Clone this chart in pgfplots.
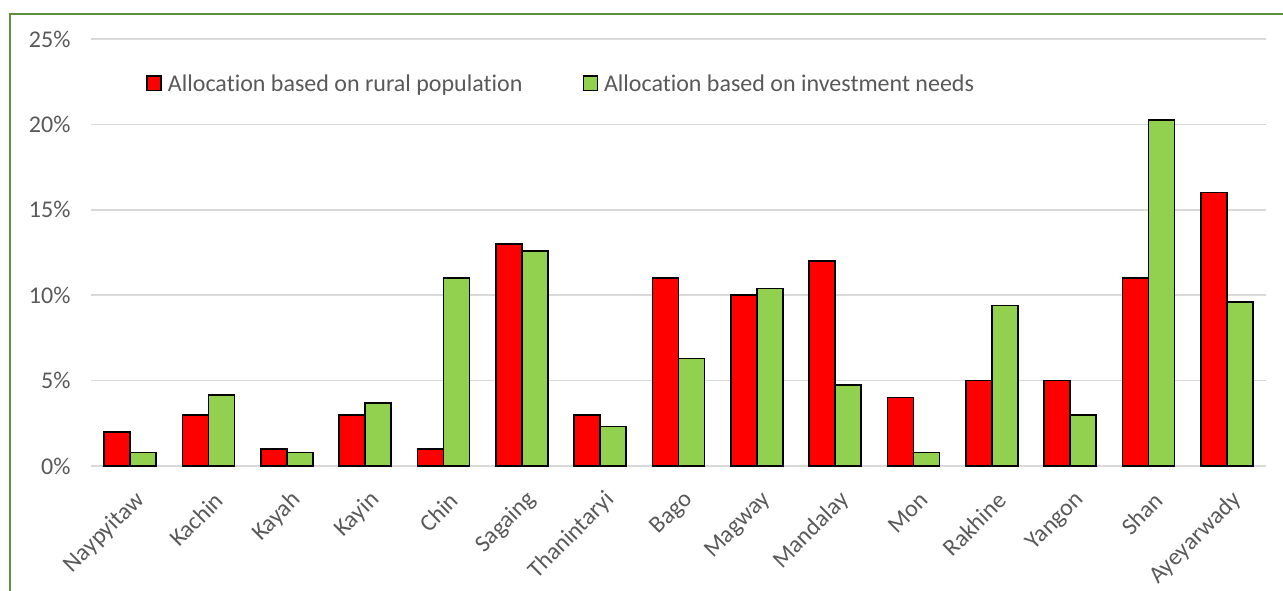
\documentclass[border=0pt]{standalone}
\usepackage{pgfplots}
\pgfplotsset{compat=1.18}
\usepackage{fontspec}
\setmainfont{Carlito}[Ligatures={NoCommon}]
\definecolor{barred}{HTML}{FF0000}
\definecolor{bargreen}{HTML}{92D050}
\definecolor{gridgray}{HTML}{D9D9D9}
\definecolor{labelgray}{HTML}{595959}
\definecolor{framegreen}{HTML}{5E8F3C}
\begin{document}
\begin{tikzpicture}
\path[use as bounding box] (0pt,0pt) rectangle (1283pt,-590pt);
\draw[framegreen, line width=1.5pt] (10pt,-620pt) -- (10pt,-14pt) -- (1320pt,-14pt);
\begin{axis}[
  at={(91pt,-466pt)}, anchor=south west,
  scale only axis, width=1175pt, height=427pt,
  ybar=0pt, bar width=26pt,
  xmin=-0.5, xmax=14.5, ymin=0, ymax=25,
  xtick={0,...,14},
  xticklabels={Naypyitaw,Kachin,Kayah,Kayin,Chin,Sagaing,Thanintaryi,Bago,Magway,Mandalay,Mon,Rakhine,Yangon,Shan,Ayeyarwady},
  ytick={0,5,10,15,20,25},
  yticklabel={\pgfmathprintnumber{\tick}\%},
  /pgf/number format/assume math mode=true,
  axis line style={draw=none},
  major tick length=0pt,
  ymajorgrids,
  grid style={draw=gridgray, line width=1.5pt},
  tick label style={font=\fontsize{24}{28}\selectfont, text=labelgray},
  yticklabel style={xshift=-17pt},
  xticklabel style={xshift=13pt, yshift=-28pt, rotate=45, anchor=east},
  legend style={draw=none, fill=none, at={(rel axis cs:0.0445,0.894)}, anchor=west,
    font=\fontsize{24}{28}\selectfont, text=labelgray,
    /tikz/every odd column/.append style={column sep=4pt},
    /tikz/every even column/.append style={column sep=58pt}},
  legend columns=2, legend cell align=left,
  legend image code/.code={\draw[#1,line width=1.5pt] (0pt,-6pt) rectangle (14pt,8.5pt);},
  clip=false,
]
\addplot[draw=black, line width=1.5pt, fill=barred] coordinates {
(0,2.0) (1,3.0) (2,1.0) (3,3.0) (4,1.0) (5,13.0) (6,3.0) (7,11.0) (8,10.0) (9,12.0) (10,4.0) (11,5.0) (12,5.0) (13,11.0) (14,16.0)};
\addplot[draw=black, line width=1.5pt, fill=bargreen] coordinates {
(0,0.8) (1,4.15) (2,0.8) (3,3.7) (4,11.0) (5,12.6) (6,2.3) (7,6.3) (8,10.4) (9,4.75) (10,0.8) (11,9.4) (12,3.0) (13,20.25) (14,9.6)};
\legend{Allocation based on rural population, Allocation based on investment needs}
\end{axis}
\end{tikzpicture}
\end{document}
